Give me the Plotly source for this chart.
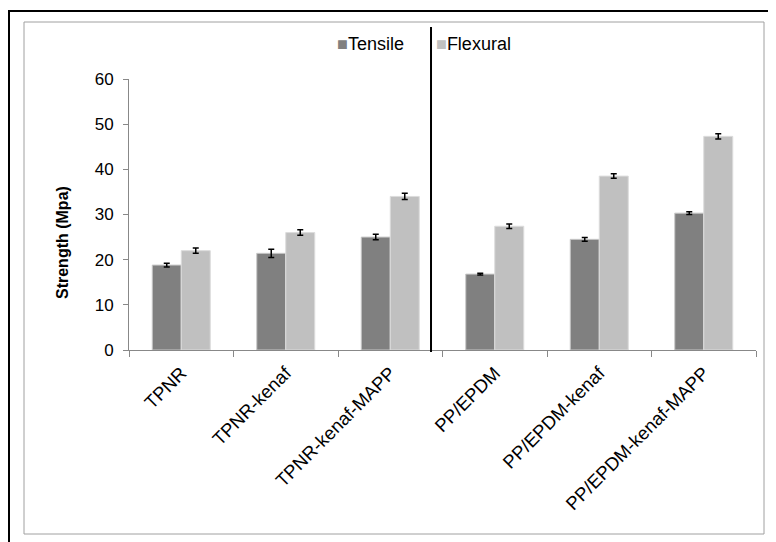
import plotly.graph_objects as go

categories = ["TPNR", "TPNR-kenaf", "TPNR-kenaf-MAPP", "PP/EPDM", "PP/EPDM-kenaf", "PP/EPDM-kenaf-MAPP"]
tensile = [18.8, 21.4, 25.0, 16.8, 24.5, 30.3]
tensile_err = [0.4, 0.9, 0.6, 0.2, 0.4, 0.3]
flexural = [22.0, 26.0, 34.0, 27.4, 38.5, 47.3]
flexural_err = [0.6, 0.6, 0.7, 0.5, 0.5, 0.6]
y_ticks = [0, 10, 20, 30, 40, 50, 60]
series_names = ["Tensile", "Flexural"]
series_colors = ["#808080", "#c0c0c0"]

OFF = 8  # page body margin
W, H = 768, 534
L, R, T, B = 121, 20, 71, 192
pw, ph = W - L - R, H - T - B

def px(x):
    return (x - OFF - L) / pw

def py(y):
    return (H - B - (y - OFF)) / ph

font = "Liberation Sans, Arial, sans-serif"

fig = go.Figure()
fig.add_trace(go.Bar(
    name=series_names[0], x=categories, y=tensile,
    marker=dict(color=series_colors[0], line=dict(color="#c8c8c8", width=1)),
    error_y=dict(type="data", array=tensile_err, color="black", thickness=1.5, width=3),
))
fig.add_trace(go.Bar(
    name=series_names[1], x=categories, y=flexural,
    marker=dict(color=series_colors[1], line=dict(color="#dcdcdc", width=1)),
    error_y=dict(type="data", array=flexural_err, color="black", thickness=1.5, width=3),
))

shapes = [
    dict(type="rect", xref="paper", yref="paper", x0=px(9), x1=px(800), y0=py(11), y1=py(560),
         line=dict(color="black", width=2), fillcolor="rgba(0,0,0,0)", layer="below"),
    dict(type="rect", xref="paper", yref="paper", x0=px(24), x1=px(764), y0=py(22), y1=py(534),
         line=dict(color="#a0a0a0", width=1), fillcolor="rgba(0,0,0,0)", layer="below"),
    dict(type="line", xref="x", yref="paper", x0=2.39, x1=2.39, y0=py(352), y1=py(27),
         line=dict(color="black", width=2)),
]

annotations = [
    dict(text="<b>Strength (Mpa)</b>", xref="paper", yref="paper", x=px(62), y=py(243),
         textangle=-90, showarrow=False, font=dict(size=16, family=font, color="black"),
         xanchor="center", yanchor="middle"),
    dict(text=f"<span style='color:{series_colors[0]}'>■</span>{series_names[0]}",
         xref="paper", yref="paper", x=px(335), y=py(44), xanchor="left", yanchor="middle",
         showarrow=False, font=dict(size=18, family=font, color="black")),
    dict(text=f"<span style='color:{series_colors[1]}'>■</span>{series_names[1]}",
         xref="paper", yref="paper", x=px(434), y=py(44), xanchor="left", yanchor="middle",
         showarrow=False, font=dict(size=18, family=font, color="black")),
]

fig.update_layout(
    width=W, height=H,
    margin=dict(l=L, r=R, t=T, b=B),
    paper_bgcolor="white", plot_bgcolor="white",
    barmode="group", bargap=0.445, bargroupgap=0,
    font=dict(family=font, size=15, color="black"),
    showlegend=False,
    shapes=shapes,
    annotations=annotations,
    xaxis=dict(
        tickangle=-45, showline=True, linecolor="#888888", linewidth=1,
        ticks="outside", tickson="boundaries", ticklen=6, tickcolor="#888888",
        showgrid=False, tickfont=dict(size=18.5, family=font), ticklabelstandoff=4,
    ),
    yaxis=dict(
        range=[0, 60], tickvals=y_ticks, showline=True, linecolor="#888888", linewidth=1,
        ticks="outside", ticklen=5, tickcolor="#888888", showgrid=False, zeroline=False,
        tickfont=dict(size=17, family=font), ticklabelstandoff=6,
    ),
)

fig.write_html("out.html")
